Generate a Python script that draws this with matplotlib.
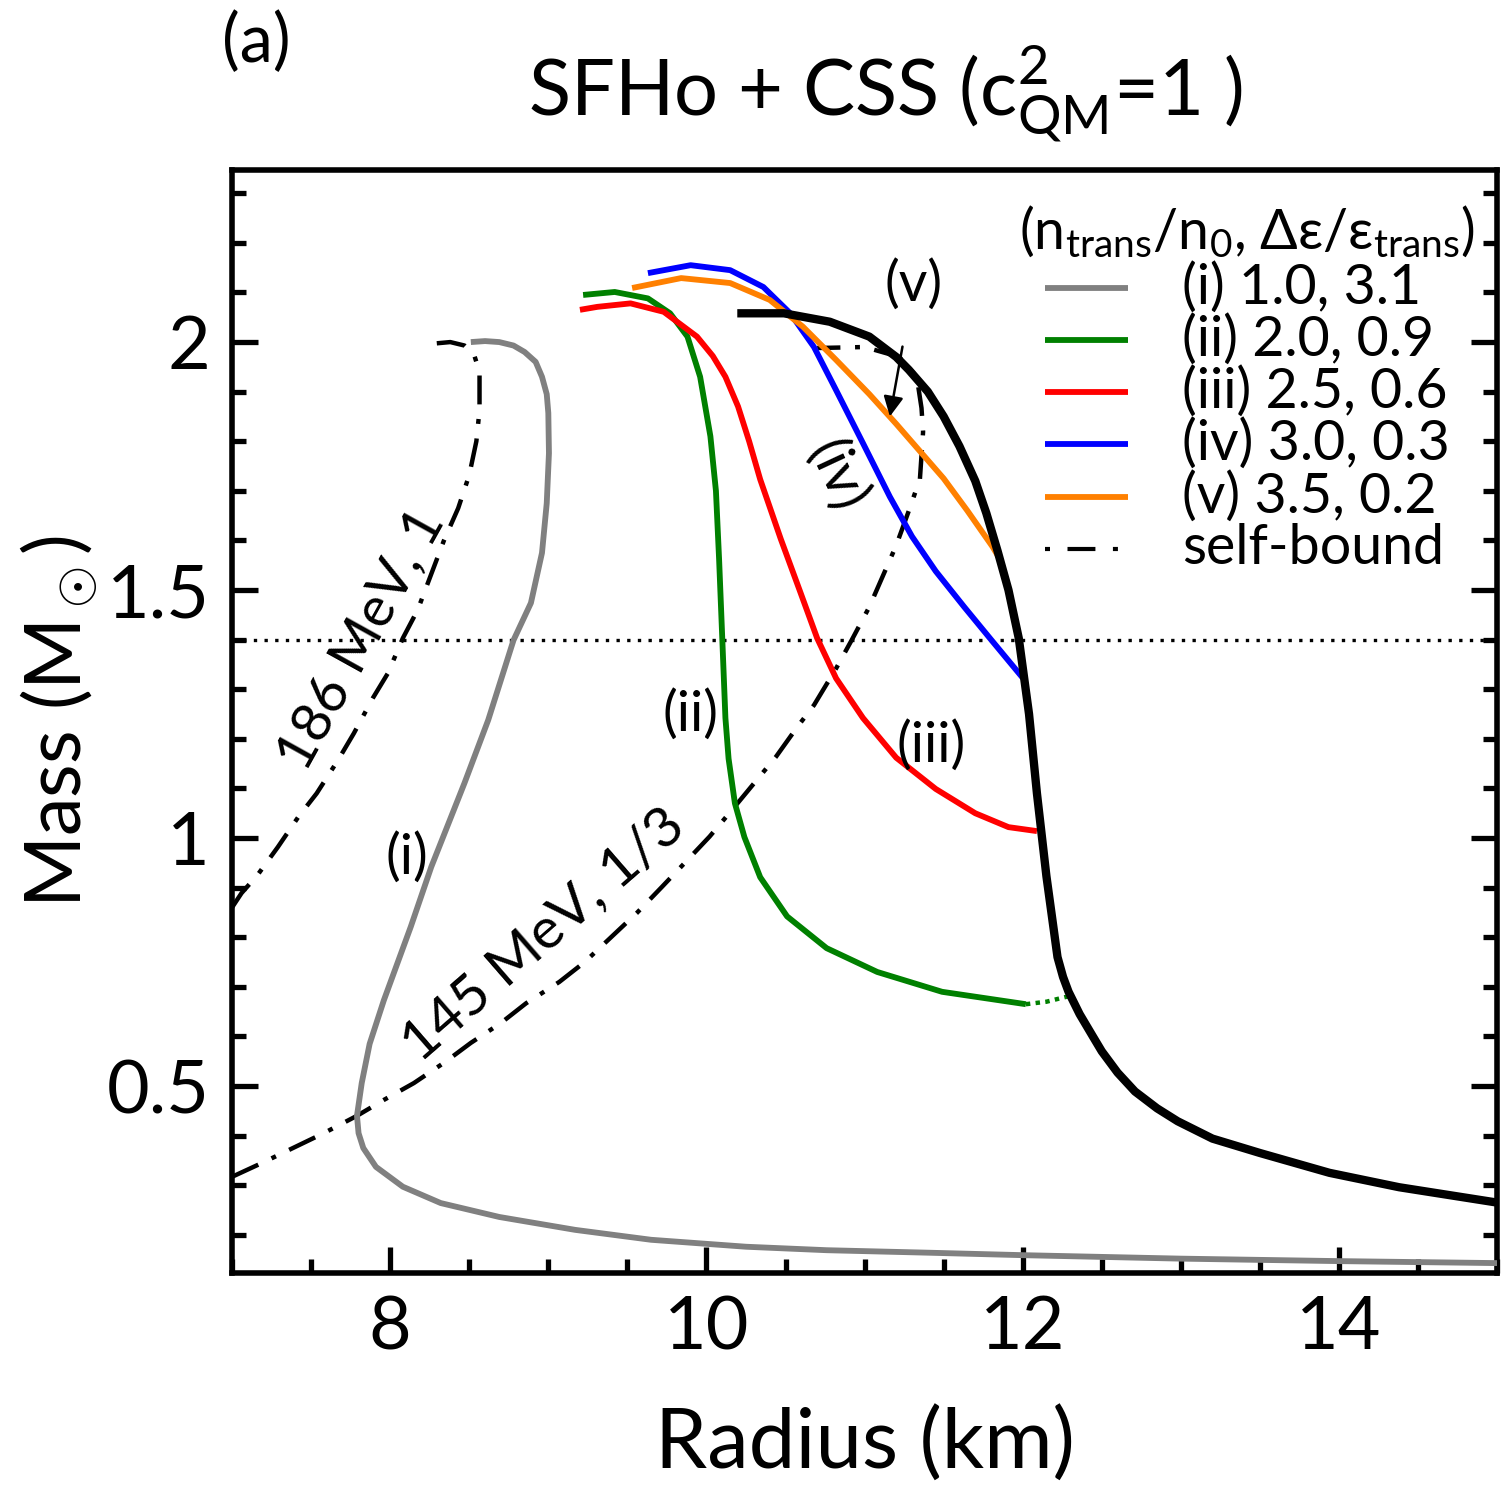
import numpy as np
import matplotlib.pyplot as plt
from matplotlib.ticker import MultipleLocator

plt.rcParams['font.family'] = ['Lato', 'DejaVu Sans']
plt.rcParams['mathtext.fontset'] = 'custom'
plt.rcParams['mathtext.rm'] = 'Lato'
plt.rcParams['mathtext.it'] = 'Lato:italic'

# mass-radius curves (R in km, M in Msun)
r_i = [8.51, 8.60, 8.69, 8.78, 8.85, 8.92, 8.96, 8.99, 9.00, 9.004, 8.99, 8.96, 8.89, 8.78, 8.62, 8.47, 8.26, 8.13, 7.96, 7.87, 7.82, 7.79, 7.80, 7.83, 7.91, 8.08, 8.32, 8.69, 9.17, 9.65, 10.25, 10.76, 11.40, 12.00, 13.00, 14.00, 15.00]
m_i = [2.000, 2.002, 2.000, 1.993, 1.980, 1.960, 1.930, 1.895, 1.857, 1.776, 1.675, 1.575, 1.474, 1.399, 1.238, 1.111, 0.942, 0.821, 0.673, 0.585, 0.506, 0.440, 0.405, 0.375, 0.337, 0.297, 0.264, 0.236, 0.210, 0.190, 0.176, 0.169, 0.164, 0.159, 0.152, 0.147, 0.143]

r_ii = [9.22, 9.42, 9.63, 9.77, 9.88, 9.96, 10.025, 10.06, 10.08, 10.10, 10.12, 10.14, 10.18, 10.24, 10.34, 10.51, 10.76, 11.08, 11.49, 12.02]
m_ii = [2.095, 2.101, 2.088, 2.058, 2.011, 1.930, 1.810, 1.700, 1.562, 1.403, 1.242, 1.160, 1.070, 1.002, 0.921, 0.842, 0.778, 0.730, 0.690, 0.665]
r_ii_dot = [12.02, 12.15, 12.29]
m_ii_dot = [0.665, 0.670, 0.681]

r_iii = [9.20, 9.31, 9.52, 9.73, 9.94, 10.04, 10.12, 10.20, 10.27, 10.34, 10.47, 10.59, 10.70, 10.82, 10.99, 11.20, 11.45, 11.70, 11.91, 12.09]
m_iii = [2.065, 2.071, 2.078, 2.061, 2.011, 1.972, 1.930, 1.870, 1.800, 1.723, 1.603, 1.499, 1.403, 1.322, 1.242, 1.162, 1.099, 1.050, 1.022, 1.014]

r_iv = [9.63, 9.90, 10.15, 10.36, 10.53, 10.68, 10.82, 10.99, 11.16, 11.30, 11.45, 11.63, 11.80, 12.00]
m_iv = [2.139, 2.155, 2.145, 2.111, 2.058, 1.990, 1.903, 1.796, 1.688, 1.608, 1.538, 1.466, 1.400, 1.323]

r_v = [9.53, 9.84, 10.15, 10.40, 10.61, 10.82, 11.03, 11.20, 11.35, 11.50, 11.65, 11.81, 11.86]
m_v = [2.109, 2.129, 2.119, 2.085, 2.031, 1.964, 1.895, 1.835, 1.780, 1.725, 1.660, 1.587, 1.560]

r_had = [10.195, 10.49, 10.78, 11.03, 11.20, 11.28, 11.40, 11.50, 11.60, 11.70, 11.77, 11.84, 11.91, 11.975, 12.04, 12.09, 12.15, 12.22, 12.255, 12.29, 12.36, 12.44, 12.50, 12.60, 12.71, 12.85, 12.98, 13.20, 13.50, 13.94, 14.38, 15.00]
m_had = [2.058, 2.058, 2.041, 2.011, 1.970, 1.944, 1.900, 1.850, 1.790, 1.720, 1.655, 1.580, 1.500, 1.403, 1.250, 1.090, 0.923, 0.760, 0.720, 0.690, 0.645, 0.602, 0.570, 0.527, 0.489, 0.455, 0.429, 0.394, 0.365, 0.325, 0.296, 0.265]

# self-bound strange star sequences
r_sb186 = [7.00, 7.06, 7.16, 7.29, 7.42, 7.535, 7.67, 7.77, 7.89, 7.985, 8.08, 8.174, 8.34, 8.43, 8.50, 8.545, 8.565, 8.565, 8.53, 8.47, 8.38, 8.21]
m_sb186 = [0.860, 0.889, 0.925, 0.982, 1.043, 1.090, 1.157, 1.211, 1.282, 1.332, 1.403, 1.460, 1.600, 1.665, 1.732, 1.800, 1.863, 1.940, 1.975, 1.993, 2.000, 1.995]

r_sb145 = [7.00, 7.19, 7.58, 7.79, 7.96, 8.15, 8.35, 8.51, 8.70, 8.86, 9.07, 9.23, 9.40, 9.56, 9.72, 9.86, 10.02, 10.16, 10.30, 10.44, 10.57, 10.68, 10.82, 10.92, 11.03, 11.20, 11.28, 11.35, 11.37, 11.36, 11.33, 11.22, 11.00, 10.70]
m_sb145 = [0.317, 0.345, 0.405, 0.440, 0.472, 0.506, 0.549, 0.587, 0.627, 0.667, 0.710, 0.750, 0.801, 0.849, 0.902, 0.949, 1.003, 1.056, 1.110, 1.164, 1.222, 1.268, 1.342, 1.400, 1.466, 1.590, 1.660, 1.724, 1.819, 1.867, 1.930, 1.970, 1.990, 1.988]

m_canon = 1.4

legend_title = r'(n$_{\rm trans}$/n$_0$, Δε/ε$_{\rm trans}$)'
legend_labels = ['(i) 1.0, 3.1', '(ii) 2.0, 0.9', '(iii) 2.5, 0.6',
                 '(iv) 3.0, 0.3', '(v) 3.5, 0.2', 'self-bound']
colors = ['#808080', '#008000', '#ff0000', '#0000ff', '#ff8000']

fig = plt.figure(figsize=(15.01, 14.87), dpi=100)
ax = fig.add_axes([0.1546, 0.1439, 0.8428, 0.7418])

dd = (6.5, 3.3, 1.1, 3.3)
ax.axhline(m_canon, color='k', lw=2.4, ls=(0, (1, 2.2)), zorder=1)
ax.plot(r_sb186, m_sb186, color='k', lw=3.2, dashes=dd, zorder=2)
ax.plot(r_sb145, m_sb145, color='k', lw=3.2, dashes=dd, zorder=2)

curves = [(r_i, m_i), (r_ii, m_ii), (r_iii, m_iii), (r_iv, m_iv), (r_v, m_v)]
for (r, m), c in zip(curves, colors):
    ax.plot(r, m, color=c, lw=4.2, zorder=3, solid_capstyle='butt', solid_joinstyle='round')
ax.plot(r_ii_dot, m_ii_dot, color=colors[1], lw=3.2, ls=(0, (1, 1.2)), zorder=3)
ax.plot(r_had, m_had, color='k', lw=6, zorder=4, solid_capstyle='butt', solid_joinstyle='round')

ax.set_xlim(7, 15)
ax.set_ylim(0.123, 2.347)
ax.xaxis.set_minor_locator(MultipleLocator(0.5))
ax.yaxis.set_minor_locator(MultipleLocator(0.1))
ax.set_xticks([8, 10, 12, 14])
ax.set_xticklabels(['8', '10', '12', '14'])
ax.set_yticks([0.5, 1, 1.5, 2])
ax.set_yticklabels(['0.5', '1', '1.5', '2'])
ax.tick_params(which='both', direction='in', top=False, right=True, width=3.8)
ax.tick_params(which='major', length=19, labelsize=53, pad=16)
ax.tick_params(which='minor', length=10)
for s in ax.spines.values():
    s.set_linewidth(4)

ax.set_xlabel('Radius (km)', fontsize=60, labelpad=32)
ax.set_ylabel(r'Mass (M$_\odot$)', fontsize=56, labelpad=4)
fig.text(0.590, 0.937, r'SFHo + CSS (c$^2_{\rm QM}$=1 )', fontsize=56, ha='center', va='center')
fig.text(0.148, 0.971, '(a)', fontsize=48, ha='left', va='center')

# legend, drawn by hand in axes coordinates
row_y = [0.893, 0.846, 0.799, 0.752, 0.7035, 0.6565]
ax.text(0.8024, 0.944, legend_title, transform=ax.transAxes, fontsize=40,
        ha='center', va='center')
for y, c, lab in zip(row_y[:5], colors, legend_labels[:5]):
    ax.plot([0.6427, 0.7083], [y, y], color=c, lw=4.2, transform=ax.transAxes,
            clip_on=False, solid_capstyle='butt')
    ax.text(0.751, y, lab, transform=ax.transAxes, fontsize=40, ha='left', va='center')
ax.plot([0.6427, 0.7004], [row_y[5], row_y[5]], color='k', lw=3, dashes=(1.2, 4.2, 6.7, 4.2),
        transform=ax.transAxes, clip_on=False, solid_capstyle='butt')
ax.text(0.751, row_y[5], legend_labels[5], transform=ax.transAxes, fontsize=40,
        ha='left', va='center')

ax.text(8.105, 0.96, '(i)', fontsize=40, ha='center', va='center')
ax.text(9.90, 1.248, '(ii)', fontsize=40, ha='center', va='center')
ax.text(11.42, 1.186, '(iii)', fontsize=40, ha='center', va='center')
ax.text(10.82, 1.73, '(iv)', fontsize=40, ha='center', va='center', rotation=-65)
ax.annotate('(v)', xy=(11.16, 1.85), xytext=(11.31, 2.115), fontsize=40,
            ha='center', va='center',
            arrowprops=dict(arrowstyle='-|>', color='k', lw=1.8, mutation_scale=30,
                            shrinkA=24, shrinkB=0))
ax.text(7.82, 1.40, '186 MeV, 1', fontsize=40, ha='center', va='center', rotation=61)
ax.text(8.97, 0.805, '145 MeV, 1/3', fontsize=41, ha='center', va='center', rotation=41)

fig.savefig('out.png', dpi=100)
